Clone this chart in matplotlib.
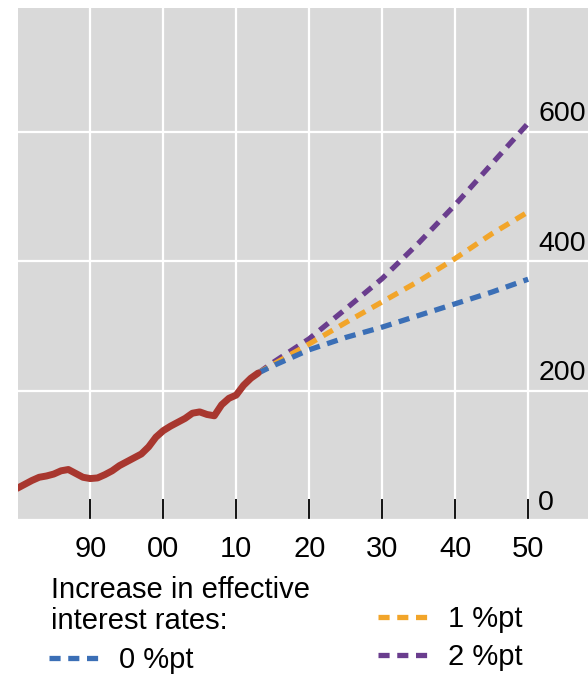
import matplotlib
matplotlib.use("Agg")
import matplotlib.pyplot as plt

plt.rcParams["font.family"] = ["Liberation Sans", "DejaVu Sans"]
plt.rcParams["lines.scale_dashes"] = False

# historical series
hist_years = list(range(1980, 2014))
hist_values = [49, 55, 61, 66, 68, 71, 76, 78, 72, 66,
               64, 65, 70, 76, 84, 90, 96, 102, 113, 128,
               138, 145, 151, 157, 165, 167, 163, 161, 178, 188,
               193, 208, 219, 227]

# projections
proj_years = [2013, 2015, 2020, 2025, 2030, 2035, 2040, 2045, 2050]
proj_0pt = [227, 238, 263, 282, 298, 316, 334, 352, 372]
proj_1pt = [227, 240, 272, 305, 337, 369, 404, 442, 476]
proj_2pt = [227, 243, 280, 326, 373, 428, 487, 550, 613]

x_ticks = [1990, 2000, 2010, 2020, 2030, 2040, 2050]
x_labels = ["90", "00", "10", "20", "30", "40", "50"]
y_ticks = [0, 200, 400, 600]
y_labels = ["0", "200", "400", "600"]

red = "#A8372F"
blue = "#3B6FB6"
orange = "#F2A52A"
purple = "#6A3D8E"
fs = 21

W, H = 588, 676
fig = plt.figure(figsize=(W / 100, H / 100), dpi=100)
ax = fig.add_axes([18 / W, 1 - 520 / H, (W - 18) / W, (520 - 8) / H])
ax.set_facecolor("#D9D9D9")
for s in ax.spines.values():
    s.set_visible(False)

dash = (8, 5.5)
l2, = ax.plot(proj_years, proj_2pt, color=purple, lw=3.8, dashes=dash, label="2 %pt")
l1, = ax.plot(proj_years, proj_1pt, color=orange, lw=3.8, dashes=dash, label="1 %pt")
l0, = ax.plot(proj_years, proj_0pt, color=blue, lw=3.8, dashes=dash, label="0 %pt")
ax.plot(hist_years, hist_values, color=red, lw=5, solid_capstyle="round")

ax.set_xlim(1980.1, 2058.2)
ax.set_ylim(0, 791)
ax.set_xticks(x_ticks)
ax.set_xticklabels(x_labels, fontsize=fs)
ax.set_yticks(y_ticks)
ax.set_yticklabels([])
ax.tick_params(axis="x", direction="in", length=15, width=1.3, color="black", pad=11)
ax.tick_params(axis="y", length=0)
ax.grid(True, color="white", lw=1.6)
ax.set_axisbelow(True)

# value labels sit inside the panel on the right
for v, lab in zip(y_ticks, y_labels):
    ax.annotate(lab, xy=(2051.4, v), xytext=(0, 3), textcoords="offset points",
                ha="left", va="bottom", fontsize=fs - 0.5, annotation_clip=False)

fig.text(51 / W, 1 - 576 / H, "Increase in effective\ninterest rates:",
         fontsize=fs, va="top", ha="left", linespacing=1.15)

leg_kw = dict(frameon=False, fontsize=fs, handlelength=1.9, handletextpad=0.5,
              borderpad=0, borderaxespad=0, labelspacing=0.35)
fig.legend(handles=[l0], labels=["0 %pt"], loc="center left",
           bbox_to_anchor=(49 / W, 1 - 660 / H), **leg_kw)
fig.legend(handles=[l1, l2], labels=["1 %pt", "2 %pt"], loc="center left",
           bbox_to_anchor=(378 / W, 1 - 638 / H), **leg_kw)

fig.savefig("out.png", dpi=100)
